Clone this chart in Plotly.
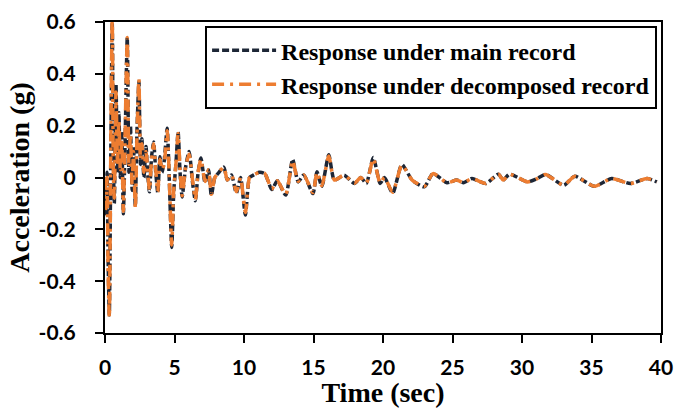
import plotly.graph_objects as go

time_sec = [
    0.00, 0.08, 0.15, 0.22, 0.31, 0.42, 0.52, 0.60, 0.67, 0.79,
    0.90, 1.00, 1.10, 1.20, 1.32, 1.45, 1.60, 1.72, 1.83, 1.95,
    2.05, 2.18, 2.30, 2.44, 2.55, 2.65, 2.80, 2.95, 3.05, 3.20,
    3.35, 3.50, 3.65, 3.80, 3.95, 4.10, 4.25, 4.47, 4.62, 4.80,
    4.95, 5.10, 5.26, 5.40, 5.55, 5.80, 6.05, 6.30, 6.50, 6.70,
    6.90, 7.20, 7.45, 7.65, 7.90, 8.20, 8.55, 8.80, 9.10, 9.45,
    9.75, 10.10, 10.40, 10.70, 11.10, 11.50, 12.00, 12.40, 13.00, 13.50,
    13.90, 14.30, 14.96, 15.25, 15.60, 16.10, 16.50, 17.20, 17.95, 18.40,
    18.80, 19.30, 19.80, 20.10, 20.70, 21.36, 22.10, 22.97, 23.60, 24.60,
    25.30, 25.80, 26.40, 27.40, 28.30, 28.65, 29.10, 30.40, 31.10, 31.70,
    33.00, 33.80, 35.20, 36.45, 37.80, 39.00, 39.70,
]

main_record = [
    0.00, -0.15, 0.02, -0.30, -0.53, 0.10, 0.60, 0.05, -0.10, 0.36,
    0.02, 0.25, 0.00, 0.18, -0.14, 0.15, 0.54, 0.02, 0.20, -0.05,
    0.12, -0.11, 0.18, 0.37, 0.05, 0.15, 0.00, 0.12, 0.03, -0.055,
    0.08, 0.137, 0.02, -0.06, 0.08, 0.02, 0.06, 0.19, 0.00, -0.27,
    -0.05, 0.05, 0.176, 0.02, -0.075, 0.04, 0.10, -0.02, -0.09, 0.02,
    0.075, -0.02, 0.03, -0.07, 0.00, 0.02, 0.04, -0.01, 0.01, -0.06,
    0.00, -0.145, 0.00, 0.01, 0.02, 0.015, -0.046, -0.013, -0.068, 0.07,
    -0.017, 0.01, -0.062, 0.022, -0.034, 0.088, -0.01, 0.009, -0.023, 0.00,
    -0.023, 0.077, -0.023, 0.00, -0.06, 0.05, -0.01, -0.036, 0.015, -0.02,
    -0.01, -0.02, -0.004, -0.023, 0.013, -0.01, 0.013, -0.017, -0.004, 0.012,
    -0.03, 0.005, -0.034, -0.004, -0.023, -0.004, -0.017,
]

decomposed_record = [
    0.00, -0.12, 0.00, -0.34, -0.54, 0.14, 0.62, 0.02, -0.08, 0.33,
    0.05, 0.22, 0.03, 0.15, -0.13, 0.18, 0.54, 0.05, 0.17, -0.03,
    0.10, -0.12, 0.16, 0.38, 0.07, 0.13, 0.02, 0.10, 0.04, -0.05,
    0.07, 0.13, 0.03, -0.055, 0.07, 0.03, 0.05, 0.18, 0.01, -0.26,
    -0.04, 0.05, 0.17, 0.03, -0.07, 0.04, 0.09, -0.01, -0.085, 0.02,
    0.07, -0.015, 0.03, -0.065, 0.00, 0.02, 0.04, -0.01, 0.01, -0.055,
    0.00, -0.135, 0.00, 0.01, 0.02, 0.015, -0.044, -0.013, -0.065, 0.065,
    -0.015, 0.01, -0.058, 0.02, -0.032, 0.083, -0.01, 0.009, -0.022, 0.00,
    -0.022, 0.073, -0.022, 0.00, -0.057, 0.048, -0.01, -0.034, 0.015, -0.02,
    -0.01, -0.02, -0.004, -0.023, 0.013, -0.01, 0.013, -0.017, -0.004, 0.012,
    -0.03, 0.005, -0.034, -0.004, -0.023, -0.004, -0.017,
]

x_ticks = [0, 5, 10, 15, 20, 25, 30, 35, 40]
x_tick_labels = ["0", "5", "10", "15", "20", "25", "30", "35", "40"]
y_ticks = [-0.6, -0.4, -0.2, 0, 0.2, 0.4, 0.6]
y_tick_labels = ["-0.6", "-0.4", "-0.2", "0", "0.2", "0.4", "0.6"]

DARK = "#1d2636"
ORANGE = "#ED7D31"

fig = go.Figure()
fig.add_trace(go.Scatter(
    x=time_sec, y=main_record, mode="lines", name="Response under main record",
    legendgroup="a",
    line=dict(color=DARK, width=3.5, dash="7px,3px", shape="spline", smoothing=0.6),
))
fig.add_trace(go.Scatter(
    x=time_sec, y=decomposed_record, mode="lines", name="Response under decomposed record",
    legendgroup="b",
    line=dict(color=ORANGE, width=3.5, dash="12px,6px,3px,6px", shape="spline", smoothing=0.6),
))

tick_font = dict(family="Lato", size=21, color="black", weight="bold")
title_font = dict(family="Liberation Serif", size=28, color="black", weight="bold")

fig.update_layout(
    width=676, height=408,
    margin=dict(l=105, r=15, t=22, b=75),
    paper_bgcolor="white", plot_bgcolor="white",
    showlegend=True,
    legend=dict(
        x=0.18, y=0.987, xanchor="left", yanchor="top",
        bgcolor="white", bordercolor="black", borderwidth=2,
        font=dict(family="Liberation Serif", size=24, color="black", weight="bold"),
        tracegroupgap=0, itemwidth=64,
    ),
)
fig.update_xaxes(
    range=[0, 40], tickvals=x_ticks, ticktext=x_tick_labels, automargin=False,
    showgrid=False, zeroline=False, showline=True, linecolor="black", linewidth=2,
    mirror=True, ticks="outside", ticklen=8, tickwidth=2, tickcolor="black",
    tickfont=tick_font, ticklabelstandoff=7, ticklabeloverflow="allow",
    title=dict(text="Time (sec)", font=title_font, standoff=0),
)
fig.update_yaxes(
    range=[-0.6, 0.6], tickvals=y_ticks, ticktext=y_tick_labels, automargin=False,
    showgrid=False, zeroline=False, showline=True, linecolor="black", linewidth=2,
    mirror=True, ticks="outside", ticklen=8, tickwidth=2, tickcolor="black",
    tickfont=tick_font, ticklabelstandoff=15, ticklabeloverflow="allow",
    title=dict(text="Acceleration (g)", font=title_font, standoff=1),
)

# remove the default page margin so the 676x408 figure fills the window exactly
fig.write_html(
    "out.html",
    config={"displayModeBar": False},
    post_script="document.body.style.margin='0';document.body.style.overflow='hidden';",
)
